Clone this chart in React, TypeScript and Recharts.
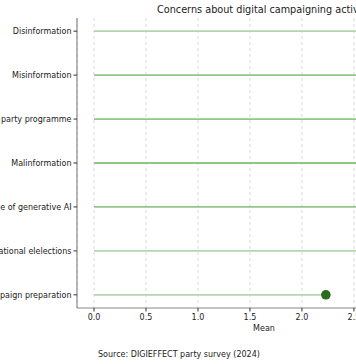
import { ComposedChart, Scatter, XAxis, YAxis, CartesianGrid } from "recharts";

const categories = [
  "Disinformation",
  "Misinformation",
  "Deviation from party programme",
  "Malinformation",
  "Misuse of generative AI",
  "Foreign interference in national elelections",
  "Use of AI in campaign preparation",
];
const means = [3.27, 3.12, 3.0, 2.9, 2.78, 2.62, 2.23];
const xTicks = [0, 0.5, 1.0, 1.5, 2.0, 2.5, 3.0];

const lineColors = ["#b4d6ac", "#8fc786", "#8fc786", "#8fc786", "#8fc786", "#b4d6ac", "#b4d6ac"];
const axisGray = "#8a8a8a";
const font = "DejaVu Sans, sans-serif";

const maxV = Math.max(...means);
const xDomain = [-0.05 * maxV, 1.05 * maxV];
const yTicks = categories.map((_, i) => i);

const stems = means.map((v, i) => [
  { x: 0, y: i },
  { x: v, y: i },
]);
const heads = means.map((v, i) => ({ x: v, y: i }));

const NoShape = () => <g />;
const Dot = (p: any) => <circle cx={p.cx} cy={p.cy} r={4.8} fill="#2b6a1f" />;

const YTick = (p: any) => (
  <text x={p.x} y={p.y} dy={3} textAnchor="end" fontSize={8} fill="#222" fontFamily={font}>
    {categories[p.payload.value]}
  </text>
);

export default function App() {
  return (
    <div
      style={{
        position: "fixed",
        left: 0,
        top: 0,
        width: 356,
        height: 364,
        overflow: "hidden",
        background: "#fff",
        fontFamily: font,
        color: "#222",
      }}
    >
      <div
        style={{
          position: "absolute",
          left: 157,
          top: 4,
          fontSize: 9.7,
          whiteSpace: "nowrap",
        }}
      >
        Concerns about digital campaigning activities
      </div>
      <div style={{ position: "absolute", left: -103, top: 0 }}>
        <ComposedChart
          width={574}
          height={332}
          margin={{ top: 18, right: 20, bottom: 0, left: 0 }}
          style={{ fontFamily: font }}
        >
          <CartesianGrid horizontal={false} strokeDasharray="3 3" stroke="#d9d9d9" />
          <XAxis
            xAxisId="top"
            orientation="top"
            type="number"
            dataKey="x"
            domain={xDomain}
            height={0}
            tick={false}
            tickLine={false}
            axisLine={{ stroke: axisGray, strokeWidth: 1.2 }}
          />
          <XAxis
            type="number"
            dataKey="x"
            domain={xDomain}
            ticks={xTicks}
            allowDataOverflow
            tickFormatter={(v: number) => v.toFixed(1)}
            tick={{ fontSize: 8, fill: "#222" }}
            tickSize={3.5}
            tickMargin={3}
            height={24}
            axisLine={{ stroke: axisGray, strokeWidth: 1.2 }}
            tickLine={{ stroke: "#333" }}
            label={{ value: "Mean", position: "insideBottom", offset: 1, fontSize: 8, fill: "#222" }}
          />
          <YAxis
            type="number"
            dataKey="y"
            domain={[-0.3, 6.3]}
            reversed
            ticks={yTicks}
            allowDataOverflow
            width={180}
            tick={YTick}
            tickSize={3.5}
            tickMargin={2}
            axisLine={{ stroke: axisGray, strokeWidth: 1.2 }}
            tickLine={{ stroke: "#333" }}
          />
          {stems.map((d, i) => (
            <Scatter
              key={i}
              data={d}
              line={{ stroke: lineColors[i], strokeWidth: 1.8 }}
              shape={NoShape}
              isAnimationActive={false}
            />
          ))}
          <Scatter data={heads} shape={Dot} isAnimationActive={false} />
        </ComposedChart>
      </div>
      <div
        style={{
          position: "absolute",
          left: 98,
          top: 350,
          fontSize: 8,
          whiteSpace: "nowrap",
        }}
      >
        Source: DIGIEFFECT party survey (2024)
      </div>
    </div>
  );
}
